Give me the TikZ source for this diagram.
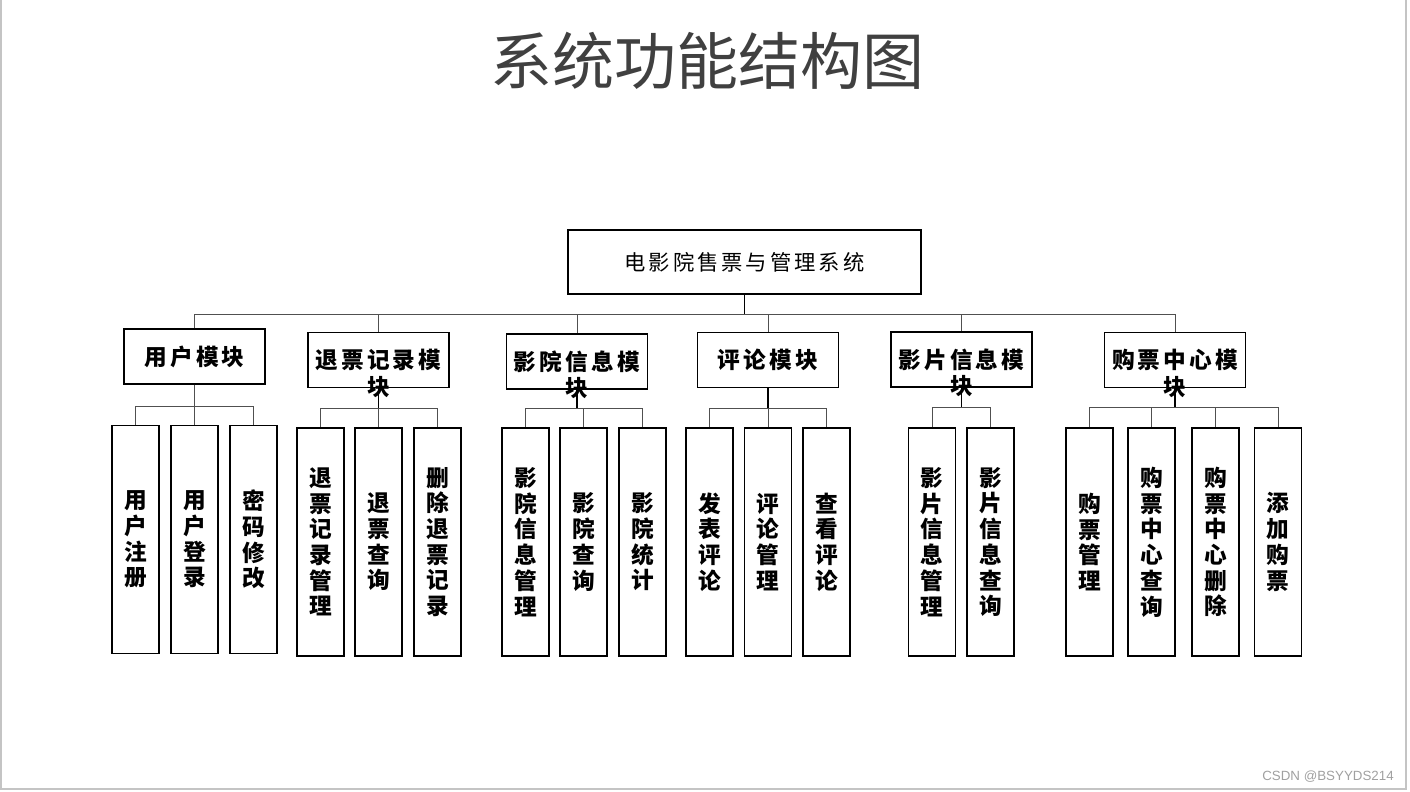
\documentclass[tikz,border=0pt]{standalone}
\usepackage{fontspec}
\newfontfamily\songti[LetterSpace=14]{Noto Sans CJK SC}
\newfontfamily\blokfont{Noto Sans CJK SC}
\newfontfamily\heiti{Noto Sans CJK SC}
\newfontfamily\merkfont{Liberation Sans}

\definecolor{titelgrijs}{HTML}{404040}
\definecolor{randgrijs}{HTML}{C4C4C4}
\definecolor{lijngrijs}{HTML}{505050}
\definecolor{merkgrijs}{HTML}{A0A0A0}

\begin{document}
\begin{tikzpicture}[x=0.75pt,y=-0.75pt,
  rootbox/.style={draw,line width=1.1pt,minimum width=264.75pt,minimum height=48pt,
    inner sep=0pt,font=\songti\fontsize{16}{19}\selectfont},
  modbox/.style={draw,line width=1.1pt,minimum width=105.75pt,minimum height=41.25pt,
    inner sep=0pt,align=center,text width=100pt,text height=13pt,text depth=0pt,
    font=\songti\bfseries\fontsize{17}{20}\selectfont},
  leafbox/.style={draw,line width=1.1pt,minimum width=35.25pt,minimum height=171pt,
    inner sep=0pt,align=center,font=\blokfont\bfseries\fontsize{17}{19.3}\selectfont},
  link/.style={lijngrijs,line width=0.75pt},
  trunk/.style={black,line width=1.1pt}]

  \useasboundingbox (0,0) rectangle (1410,792);

  % rand
  \draw[randgrijs,line width=1pt] (1,0) -- (1,789) -- (1406,789) -- (1406,0);

  % titel
  \node[font=\heiti\fontsize{46.5}{50}\selectfont,text=titelgrijs] (titel) at (707.5,61) {系统功能结构图};

  % hoofdsysteem
  \node[rootbox] (root) at (744.5,262) {电影院售票与管理系统};

  % modules
  \node[modbox] (m1) at (194.5,356.5) {用户模块};
  \node[modbox] (m2) at (378.5,360) {退票记录模\\块};
  \node[modbox] (m3) at (577,361.5) {影院信息模\\块};
  \node[modbox] (m4) at (768,360) {评论模块};
  \node[modbox] (m5) at (961.5,359.5) {影片信息模\\块};
  \node[modbox] (m6) at (1175,360) {购票中心模\\块};

  % functies
  \foreach \x/\naam/\tekst in {135.5/u1/用\\户\\注\\册, 194.5/u2/用\\户\\登\\录, 253.5/u3/密\\码\\修\\改}
    \node[leafbox] (\naam) at (\x,539.5) {\tekst};
  \foreach \x/\naam/\tekst in {320.5/r1/退\\票\\记\\录\\管\\理, 378.5/r2/退\\票\\查\\询,
      437.5/r3/删\\除\\退\\票\\记\\录}
    \node[leafbox] (\naam) at (\x,542) {\tekst};
  \foreach \x/\naam/\tekst in {525.5/y1/影\\院\\信\\息\\管\\理, 583.5/y2/影\\院\\查\\询,
      642.5/y3/影\\院\\统\\计}
    \node[leafbox] (\naam) at (\x,542) {\tekst};
  \foreach \x/\naam/\tekst in {709.5/p1/发\\表\\评\\论, 768/p2/评\\论\\管\\理, 826.5/p3/查\\看\\评\\论}
    \node[leafbox] (\naam) at (\x,542) {\tekst};
  \foreach \x/\naam/\tekst in {932/f1/影\\片\\信\\息\\管\\理, 990.5/f2/影\\片\\信\\息\\查\\询}
    \node[leafbox] (\naam) at (\x,542) {\tekst};
  \foreach \x/\naam/\tekst in {1089.5/k1/购\\票\\管\\理, 1151.5/k2/购\\票\\中\\心\\查\\询,
      1215.5/k3/购\\票\\中\\心\\删\\除, 1278/k4/添\\加\\购\\票}
    \node[leafbox] (\naam) at (\x,542) {\tekst};

  % verbindingen hoofdsysteem
  \coordinate (bus) at (745,314);
  \draw[trunk] (root.south) -- (root.south |- bus);
  \draw[link] (m1.north |- bus) -- (m6.north |- bus);
  \foreach \m in {m1,m2,m3,m4,m5,m6}
    \draw[link] (\m.north |- bus) -- (\m.north);

  % verbindingen modules
  \coordinate (busu) at (0,406);
  \draw[link] (m1.south) -- (m1.south |- busu);
  \draw[link] (u1.north |- busu) -- (u3.north |- busu);
  \foreach \k in {u1,u2,u3}
    \draw[link] (\k.north |- busu) -- (\k.north);

  \coordinate (busr) at (0,408);
  \draw[trunk] (m2.south) -- (m2.south |- busr);
  \draw[link] (r1.north |- busr) -- (r3.north |- busr);
  \foreach \k in {r1,r2,r3}
    \draw[link] (\k.north |- busr) -- (\k.north);

  \coordinate (busy) at (0,408);
  \draw[trunk] (m3.south) -- (m3.south |- busy);
  \draw[link] (y1.north |- busy) -- (y3.north |- busy);
  \foreach \k in {y1,y2,y3}
    \draw[link] (\k.north |- busy) -- (\k.north);

  \coordinate (busp) at (0,408);
  \draw[trunk] (m4.south) -- (m4.south |- busp);
  \draw[link] (p1.north |- busp) -- (p3.north |- busp);
  \foreach \k in {p1,p2,p3}
    \draw[link] (\k.north |- busp) -- (\k.north);

  \coordinate (busf) at (0,407);
  \draw[trunk] (m5.south) -- (m5.south |- busf);
  \draw[link] (f1.north |- busf) -- (f2.north |- busf);
  \foreach \k in {f1,f2}
    \draw[link] (\k.north |- busf) -- (\k.north);

  \coordinate (busk) at (0,407);
  \draw[trunk] (m6.south) -- (m6.south |- busk);
  \draw[link] (k1.north |- busk) -- (k4.north |- busk);
  \foreach \k in {k1,k2,k3,k4}
    \draw[link] (\k.north |- busk) -- (\k.north);

  % watermerk
  \node[font=\merkfont\fontsize{10}{12}\selectfont,text=merkgrijs] (merk) at (1328,777) {CSDN @BSYYDS214};

\end{tikzpicture}
\end{document}
